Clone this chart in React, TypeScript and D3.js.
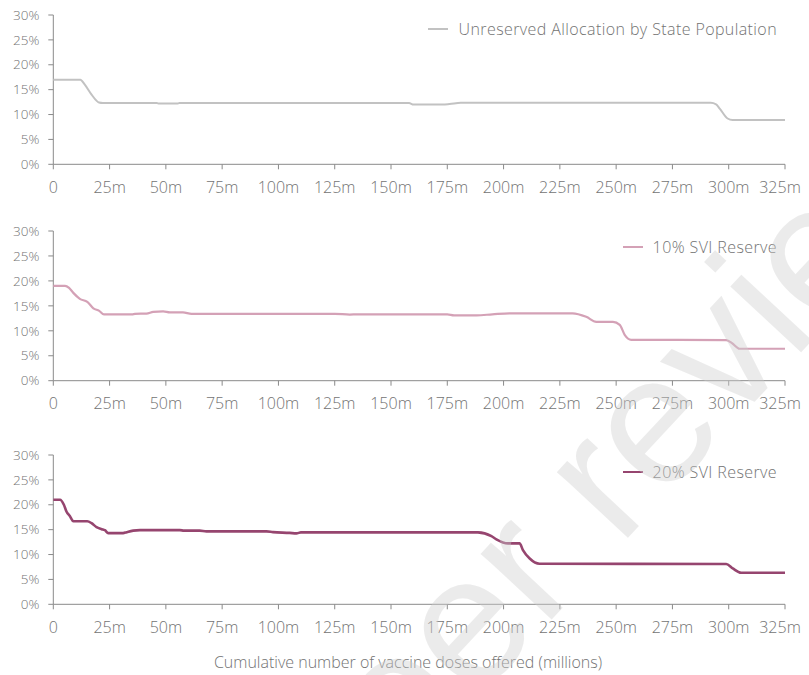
import React from "react";
import * as d3 from "d3";

// Cumulative doses offered (millions) and share (%) for each scenario
const unreservedX = [0, 12, 14, 17, 20.3, 22, 46, 47, 55, 56, 158, 160, 173, 176, 181, 292, 294.4, 296, 299.5, 301.7, 325];
const unreservedY = [17, 17, 16, 14, 12.4, 12.3, 12.3, 12.2, 12.2, 12.3, 12.3, 12.0, 12.0, 12.1, 12.35, 12.35, 12.05, 11.2, 9.2, 8.9, 8.9];

const svi10X = [0, 5.2, 7, 8.9, 11.8, 15.1, 17.8, 20.4, 22.5, 35, 36.3, 41.4, 44.4, 48.8, 51.8, 57.6, 61.4, 125, 131.7, 135, 175, 178, 188, 195, 202.6, 230.6, 236.7, 241.2, 248.6, 251.6, 253.8, 256.7, 298.9, 301.8, 304.8, 325];
const svi10Y = [19, 19, 18.6, 17.6, 16.4, 15.8, 14.5, 14.0, 13.3, 13.3, 13.4, 13.45, 13.8, 13.9, 13.7, 13.7, 13.4, 13.4, 13.25, 13.3, 13.3, 13.1, 13.1, 13.3, 13.5, 13.5, 12.8, 11.8, 11.8, 11.2, 9.2, 8.2, 8.15, 7.4, 6.4, 6.4];

const svi20X = [0, 3, 4.7, 5.9, 7.4, 8.9, 15.1, 17, 19.2, 21.5, 22.9, 24.4, 31, 32.6, 35.5, 38.5, 56.2, 58, 65, 68, 94.7, 97.6, 105, 108, 110, 188.6, 194.6, 196.8, 202, 207.1, 208.6, 211.6, 216, 298.9, 301.8, 305.5, 325];
const svi20Y = [21, 21, 20, 18.6, 17.7, 16.7, 16.7, 16.3, 15.5, 15.1, 14.9, 14.3, 14.3, 14.5, 14.8, 14.9, 14.9, 14.8, 14.8, 14.65, 14.65, 14.5, 14.35, 14.25, 14.45, 14.45, 13.7, 13.06, 12.25, 12.25, 10.9, 9.2, 8.15, 8.1, 7.2, 6.35, 6.35];

const seriesNames = ["Unreserved Allocation by State Population", "10% SVI Reserve", "20% SVI Reserve"];
const seriesColors = ["#c2c2c2", "#d4a1b6", "#96456f"];
const xTicks = [0, 25, 50, 75, 100, 125, 150, 175, 200, 225, 250, 275, 300, 325];
const yTicks = [0, 5, 10, 15, 20, 25, 30];
const xTitle = "Cumulative number of vaccine doses offered (millions)";
const watermark = "Peer review";

const panels = [
  { xs: unreservedX, ys: unreservedY, top: 15, bottom: 164.3, legendY: 29, lineStart: 428, width: 2 },
  { xs: svi10X, ys: svi10Y, top: 231, bottom: 380.7, legendY: 247, lineStart: 623, width: 2.2 },
  { xs: svi20X, ys: svi20Y, top: 455, bottom: 604.3, legendY: 472, lineStart: 623, width: 2.6 },
];

const FONT = "'Open Sans', 'Noto Sans', sans-serif";
const TEXT = "#737373";
const AXIS = "#8a8a8a";

export default function App() {
  const x = d3.scaleLinear().domain([0, 325]).range([53.3, 785]);
  return (
    <svg width={809} height={675} style={{ position: "absolute", left: 0, top: 0, background: "#fff" }} fontFamily={FONT} fontWeight={300}>
      {panels.map((p, i) => {
        const y = d3.scaleLinear().domain([0, 30]).range([p.bottom, p.top]);
        const pts: [number, number][] = p.xs.map((v, k) => [v, p.ys[k]]);
        const line = d3
          .line<[number, number]>()
          .x((d) => x(d[0]))
          .y((d) => y(d[1]))
          .curve(d3.curveMonotoneX);
        return (
          <g key={i}>
            <line x1={x(0)} x2={x(0)} y1={y(30)} y2={y(0)} stroke={AXIS} strokeWidth={1} />
            {yTicks.map((t) => (
              <g key={t}>
                <line x1={x(0) - 5} x2={x(0)} y1={y(t)} y2={y(t)} stroke={AXIS} />
                <text x={x(0) - 14} y={y(t)} dy="0.35em" textAnchor="end" fontSize={13.5} fill={TEXT}>
                  {t}%
                </text>
              </g>
            ))}
            <line x1={x(0)} x2={x(325)} y1={y(0)} y2={y(0)} stroke={AXIS} strokeWidth={1} />
            {xTicks.map((t, k) => (
              <g key={t}>
                <line x1={x(t)} x2={x(t)} y1={y(0)} y2={y(0) + 5} stroke={AXIS} />
                <text
                  x={k === xTicks.length - 1 ? x(t) - 5 : x(t)}
                  y={y(0) + 23}
                  dy="0.35em"
                  textAnchor="middle"
                  fontSize={16}
                  fill={TEXT}
                >
                  {t === 0 ? "0" : `${t}m`}
                </text>
              </g>
            ))}
            <path d={line(pts) || ""} fill="none" stroke={seriesColors[i]} strokeWidth={p.width} strokeLinejoin="round" />
            <line x1={p.lineStart} x2={p.lineStart + 20} y1={p.legendY} y2={p.legendY} stroke={seriesColors[i]} strokeWidth={2} />
            <text x={777} y={p.legendY} dy="0.35em" textAnchor="end" fontSize={16} letterSpacing={0.4} fill={TEXT}>
              {seriesNames[i]}
            </text>
          </g>
        );
      })}
      <text x={408} y={662} dy="0.35em" textAnchor="middle" fontSize={16} fill={TEXT}>
        {xTitle}
      </text>
      <text
        transform="translate(321,867) rotate(-47)"
        fontSize={183}
        fontFamily="'Liberation Sans', Arial, sans-serif"
        fontWeight={400}
        fill="#cfcfcf"
        opacity={0.4}
      >
        {watermark}
      </text>
    </svg>
  );
}
